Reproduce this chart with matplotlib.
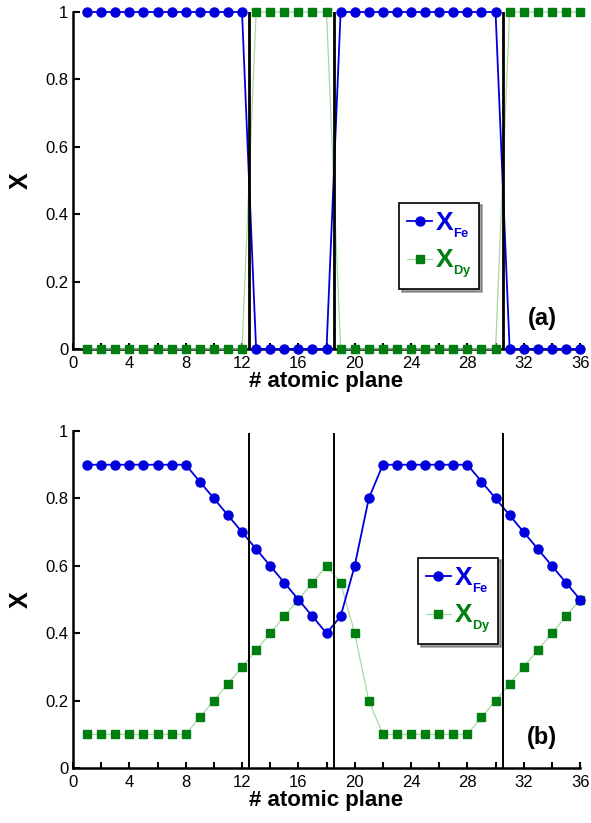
import numpy as np
import matplotlib.pyplot as plt
from matplotlib.ticker import MultipleLocator

plt.rcParams['font.family'] = ['Liberation Sans', 'DejaVu Sans']
plt.rcParams['mathtext.fontset'] = 'custom'
plt.rcParams['mathtext.bf'] = 'Liberation Sans:bold'
plt.rcParams['mathtext.rm'] = 'Liberation Sans'

# data
planes = np.arange(1, 37)
fe_a = [1]*12 + [0]*6 + [1]*12 + [0]*6
dy_a = [0]*12 + [1]*6 + [0]*12 + [1]*6
fe_b = [0.9]*8 + [0.85, 0.8, 0.75, 0.7, 0.65, 0.6, 0.55, 0.5, 0.45, 0.4,
                  0.45, 0.6, 0.8] + [0.9]*7 + [0.85, 0.8, 0.75, 0.7, 0.65, 0.6, 0.55, 0.5]
dy_b = [0.1]*8 + [0.15, 0.2, 0.25, 0.3, 0.35, 0.4, 0.45, 0.5, 0.55, 0.6,
                  0.55, 0.4, 0.2] + [0.1]*7 + [0.15, 0.2, 0.25, 0.3, 0.35, 0.4, 0.45, 0.5]
interfaces = [12.5, 18.5, 30.5]
xticks = np.arange(0, 37, 4)
yticks = [0, 0.2, 0.4, 0.6, 0.8, 1]
ytick_labels = ['0', '0.2', '0.4', '0.6', '0.8', '1']
labels = [r'$\mathbf{X}_{_{\mathbf{Fe}}}$', r'$\mathbf{X}_{_{\mathbf{Dy}}}$']

blue = '#0000dd'
green = '#007f10'

fig = plt.figure(figsize=(5.91, 8.23), dpi=100)
ax_a = fig.add_axes([0.1235, 0.576, 0.858, 0.4094])
ax_b = fig.add_axes([0.1235, 0.0668, 0.858, 0.4095])


def setup(ax, fe, dy, vtop, vlw, tag, leg_pos):
    for xv in interfaces:
        ax.axvline(xv, ymin=0, ymax=vtop, color='black', lw=vlw, zorder=6)
    ax.plot(planes, fe, color=blue, lw=1.3, marker='o', ms=6.5, label=labels[0],
            clip_on=False, zorder=5)
    ax.plot(planes, dy, color='#a6d9a6', lw=0.9, marker='s', ms=6, mfc=green, mec=green,
            label=labels[1], clip_on=False, zorder=4)
    ax.set_xlim(0, 36)
    ax.set_ylim(0, 1)
    ax.set_xticks(xticks)
    ax.xaxis.set_minor_locator(MultipleLocator(2))
    ax.set_yticks(yticks)
    ax.set_yticklabels(ytick_labels)
    ax.tick_params(direction='in', which='both', labelsize=12, width=1.5, length=4)
    ax.tick_params(axis='x', pad=5)
    ax.tick_params(axis='y', length=5)
    for s in ['top', 'right']:
        ax.spines[s].set_visible(False)
    for s in ['left', 'bottom']:
        ax.spines[s].set_linewidth(1.8)
    ax.set_xlabel('# atomic plane', fontsize=16, fontweight='bold', labelpad=0)
    ax.set_ylabel('X', fontsize=18, fontweight='bold', labelpad=9)
    ax.text(0.925, 0.09, tag, transform=ax.transAxes, fontsize=17, fontweight='bold',
            ha='center', va='center')
    leg = ax.legend(loc='center', bbox_to_anchor=leg_pos, fontsize=19, labelcolor='linecolor',
                    frameon=True, fancybox=False, shadow=True, handlelength=0.95,
                    handletextpad=0.1, borderpad=0.3, labelspacing=0.3, borderaxespad=0)
    leg.set_zorder(10)
    leg.get_frame().set_edgecolor('black')
    leg.get_frame().set_linewidth(1.2)
    for t, c in zip(leg.get_texts(), [blue, green]):
        t.set_color(c)


setup(ax_a, fe_a, dy_a, 1.0, 2.0, '(a)', (0.722, 0.306))
setup(ax_b, fe_b, dy_b, 0.99, 1.4, '(b)', (0.759, 0.496))

fig.savefig('out.png', dpi=100)
